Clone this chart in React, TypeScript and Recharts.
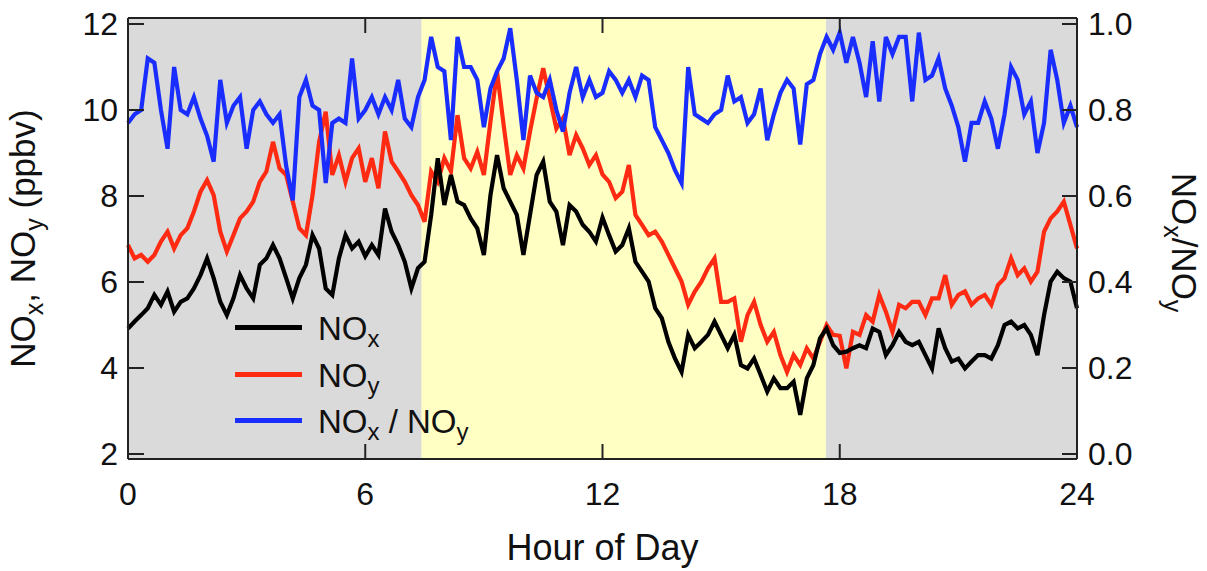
import React from "react";
import { LineChart, Line, XAxis, YAxis, ReferenceArea } from "recharts";

// 10-minute averages, 00:00 → 24:00 (145 samples)
const STEP_MIN = 10;

const NOX = [
  4.92, 5.08, 5.23, 5.39, 5.7, 5.47, 5.78, 5.31, 5.54, 5.62, 5.85, 6.16, 6.55, 6.09, 5.54, 5.23, 5.62, 6.16, 5.85,
  5.62, 6.4, 6.55, 6.86, 6.55, 6.09, 5.62, 6.09, 6.4, 7.09, 6.78, 5.85, 5.7, 6.55, 7.09, 6.78, 6.94, 6.6,
  6.86, 6.63, 7.71, 7.17, 6.86, 6.47, 5.85, 6.32, 6.47, 7.56, 8.88, 7.79, 8.49, 7.87, 7.79, 7.48, 7.25, 6.63,
  8.02, 8.95, 8.18, 7.87, 7.56, 6.63, 7.56, 8.49, 8.8, 7.87, 7.64, 6.86, 7.79, 7.64, 7.33, 7.17, 6.94, 7.5,
  7.09, 6.71, 6.86, 7.25, 6.47, 6.24, 6.01, 5.39, 5.16, 4.61, 4.22, 3.91, 4.77, 4.46, 4.61, 4.77, 5.08, 4.77,
  4.46, 4.77, 4.07, 3.99, 4.22, 3.84, 3.45, 3.76, 3.53, 3.53, 3.68, 2.91, 3.76, 4.07, 4.69, 4.92, 4.53, 4.35,
  4.38, 4.46, 4.53, 4.46, 4.92, 4.84, 4.3, 4.53, 4.84, 4.61, 4.53, 4.61, 4.3, 3.99, 4.92, 4.46, 4.15, 4.22,
  3.99, 4.15, 4.3, 4.3, 4.22, 4.53, 5.0, 5.08, 4.92, 5.0, 4.77, 4.3, 5.23, 6.01, 6.24, 6.09, 6.01, 5.39,
];

const NOY = [
  6.86, 6.55, 6.63, 6.47, 6.63, 6.94, 7.17, 6.78, 7.09, 7.25, 7.64, 8.1, 8.37, 8.02, 7.17, 6.71, 7.09, 7.48, 7.64,
  7.87, 8.33, 8.57, 9.26, 8.64, 8.49, 7.87, 7.25, 7.09, 8.02, 9.26, 9.96, 8.49, 8.95, 8.33, 8.88, 9.11, 8.33,
  8.88, 8.18, 9.5, 8.8, 8.57, 8.33, 8.02, 7.79, 7.4, 8.57, 8.33, 8.88, 8.57, 9.88, 8.88, 8.64, 9.03, 8.49,
  9.73, 10.89, 9.65, 8.49, 8.95, 8.64, 9.5, 10.27, 10.97, 10.27, 9.57, 9.81, 8.95, 9.42, 9.11, 8.72, 8.95, 8.5,
  8.33, 7.95, 8.1, 8.72, 7.56, 7.33, 7.09, 7.17, 6.94, 6.63, 6.32, 6.01, 5.47, 5.78, 6.01, 6.32, 6.55, 5.54,
  5.54, 5.62, 4.61, 5.23, 5.54, 5.0, 4.61, 4.84, 4.3, 3.91, 4.3, 4.07, 4.46, 4.22, 4.61, 5.0, 4.77, 4.75,
  3.99, 4.84, 4.77, 5.23, 5.08, 5.7, 5.31, 4.84, 5.47, 5.39, 5.54, 5.54, 5.23, 5.62, 5.62, 6.16, 5.47, 5.7,
  5.78, 5.47, 5.62, 5.7, 5.47, 5.93, 6.09, 6.55, 6.16, 6.32, 6.01, 6.24, 7.17, 7.48, 7.64, 7.87, 7.33, 6.78,
];

const RATIO = [
  0.77, 0.79, 0.8, 0.92, 0.91, 0.8, 0.71, 0.9, 0.8, 0.79, 0.83, 0.78, 0.74, 0.68, 0.87, 0.77, 0.81, 0.83, 0.71,
  0.8, 0.82, 0.79, 0.77, 0.79, 0.67, 0.59, 0.83, 0.87, 0.81, 0.8, 0.63, 0.77, 0.78, 0.77, 0.92, 0.78, 0.8,
  0.83, 0.79, 0.83, 0.8, 0.87, 0.78, 0.76, 0.83, 0.87, 0.97, 0.9, 0.89, 0.73, 0.97, 0.9, 0.9, 0.87, 0.76,
  0.85, 0.89, 0.92, 0.99, 0.87, 0.73, 0.88, 0.84, 0.83, 0.87, 0.8, 0.75, 0.84, 0.9, 0.83, 0.87, 0.83, 0.84,
  0.89, 0.87, 0.84, 0.87, 0.83, 0.88, 0.87, 0.76, 0.73, 0.7, 0.66, 0.63, 0.9, 0.79, 0.78, 0.77, 0.79, 0.8,
  0.88, 0.82, 0.83, 0.77, 0.79, 0.85, 0.73, 0.79, 0.84, 0.87, 0.85, 0.72, 0.86, 0.87, 0.93, 0.97, 0.94, 0.98,
  0.91, 0.97, 0.91, 0.83, 0.96, 0.82, 0.97, 0.93, 0.97, 0.97, 0.82, 0.98, 0.87, 0.88, 0.92, 0.85, 0.81, 0.76,
  0.68, 0.77, 0.77, 0.82, 0.78, 0.71, 0.79, 0.9, 0.87, 0.79, 0.82, 0.7, 0.77, 0.94, 0.87, 0.77, 0.81, 0.76,
];

const X_TICKS = [0, 6, 12, 18, 24];
const TOP_TICKS = [6, 12, 18];
const LEFT_TICKS = [2, 4, 6, 8, 10, 12];
const RIGHT_TICKS = [0, 0.2, 0.4, 0.6, 0.8, 1.0];
// daylight window (hours) shaded yellow
const DAYLIGHT_START = 7.42;
const DAYLIGHT_END = 17.65;

const data = NOX.map((nox, i) => ({
  hour: (i * STEP_MIN) / 60,
  nox,
  noy: NOY[i],
  ratio: RATIO[i],
}));

const FONT = "'Liberation Sans', Arial, Helvetica, sans-serif";
const FRAME = { stroke: "#222", strokeWidth: 2 };
const TICK_LINE = { stroke: "#222", strokeWidth: 2 };
const tickText = { fill: "#111", fontSize: 32, fontFamily: FONT };
const LINE_W = 4.2;

const LeftTitle = ({ viewBox }: any) => {
  const x = viewBox.x - 13;
  const y = viewBox.y + viewBox.height / 2;
  return (
    <text x={x} y={y} transform={`rotate(-90, ${x}, ${y})`} textAnchor="middle" fontSize={35} fontFamily={FONT} fill="#111">
      NO<tspan fontSize={25} dy={8}>x</tspan>
      <tspan dy={-8}>, NO</tspan>
      <tspan fontSize={25} dy={8}>y</tspan>
      <tspan dy={-8}> (ppbv)</tspan>
    </text>
  );
};

const RightTitle = ({ viewBox }: any) => {
  const x = viewBox.x + 95;
  const y = viewBox.y + viewBox.height / 2 + 4;
  return (
    <text x={x} y={y} transform={`rotate(90, ${x}, ${y})`} textAnchor="middle" fontSize={35} fontFamily={FONT} fill="#111">
      NO<tspan fontSize={25} dy={8}>x</tspan>
      <tspan dy={-8}>/NO</tspan>
      <tspan fontSize={25} dy={8}>y</tspan>
    </text>
  );
};

const BottomTitle = ({ viewBox }: any) => (
  <text x={viewBox.x + viewBox.width / 2} y={viewBox.y + 101} textAnchor="middle" fontSize={36} fontFamily={FONT} fill="#111">
    Hour of Day
  </text>
);

const legendRows = [
  { color: "#000000", y: 327, main: "NO", sub: "x", rest: "", sub2: "" },
  { color: "#ff2a12", y: 374, main: "NO", sub: "y", rest: "", sub2: "" },
  { color: "#1a2dff", y: 420, main: "NO", sub: "x", rest: " / NO", sub2: "y" },
];

function Legend() {
  return (
    <>
      {legendRows.map((r, i) => (
        <React.Fragment key={i}>
          <div style={{ position: "absolute", left: 235, top: r.y - 2.5, width: 67, height: 5, background: r.color }} />
          <div
            style={{
              position: "absolute",
              left: 318,
              top: r.y - 17,
              fontFamily: FONT,
              fontSize: 33,
              color: "#111",
              whiteSpace: "pre",
              lineHeight: "normal",
            }}
          >
            {r.main}
            <span style={{ fontSize: 24, position: "relative", top: 7 }}>{r.sub}</span>
            {r.rest}
            {r.sub2 && <span style={{ fontSize: 24, position: "relative", top: 7 }}>{r.sub2}</span>}
          </div>
        </React.Fragment>
      ))}
    </>
  );
}

export default function App() {
  return (
    <div style={{ position: "absolute", left: 0, top: 0, width: 1207, height: 571, background: "#fff" }}>
      <LineChart width={1207} height={571} data={data} margin={{ top: 0, right: 50, bottom: 52, left: 48 }}>
        <XAxis
          xAxisId="top"
          orientation="top"
          dataKey="hour"
          type="number"
          domain={[0, 24]}
          ticks={TOP_TICKS}
          height={18}
          tickSize={-15}
          tickFormatter={() => ""}
          axisLine={FRAME}
          tickLine={TICK_LINE}
        />
        <XAxis
          dataKey="hour"
          type="number"
          domain={[0, 24]}
          ticks={X_TICKS}
          height={60}
          tickSize={-15}
          tickMargin={38}
          tick={tickText}
          axisLine={FRAME}
          tickLine={TICK_LINE}
          label={<BottomTitle />}
        />
        <YAxis
          yAxisId="left"
          type="number"
          domain={[1.884, 12.14]}
          ticks={LEFT_TICKS}
          width={80}
          tickSize={-16}
          tickMargin={26}
          tick={tickText}
          axisLine={FRAME}
          tickLine={TICK_LINE}
          allowDataOverflow
          label={<LeftTitle />}
        />
        <YAxis
          yAxisId="right"
          orientation="right"
          type="number"
          domain={[-0.0116, 1.014]}
          ticks={RIGHT_TICKS}
          width={80}
          tickSize={-15}
          tickMargin={26}
          tick={tickText}
          tickFormatter={(v: number) => v.toFixed(1)}
          axisLine={FRAME}
          tickLine={TICK_LINE}
          allowDataOverflow
          label={<RightTitle />}
        />
        <ReferenceArea yAxisId="left" x1={0} x2={24} fill="#dadada" fillOpacity={1} stroke="none" />
        <ReferenceArea yAxisId="left" x1={DAYLIGHT_START} x2={DAYLIGHT_END} fill="#ffffc4" fillOpacity={1} stroke="none" />
        <Line yAxisId="left" dataKey="noy" type="linear" stroke="#ff2a12" strokeWidth={LINE_W} dot={false} isAnimationActive={false} />
        <Line yAxisId="left" dataKey="nox" type="linear" stroke="#000000" strokeWidth={LINE_W} dot={false} isAnimationActive={false} />
        <Line yAxisId="right" dataKey="ratio" type="linear" stroke="#1a2dff" strokeWidth={LINE_W} dot={false} isAnimationActive={false} />
      </LineChart>
      <Legend />
    </div>
  );
}
